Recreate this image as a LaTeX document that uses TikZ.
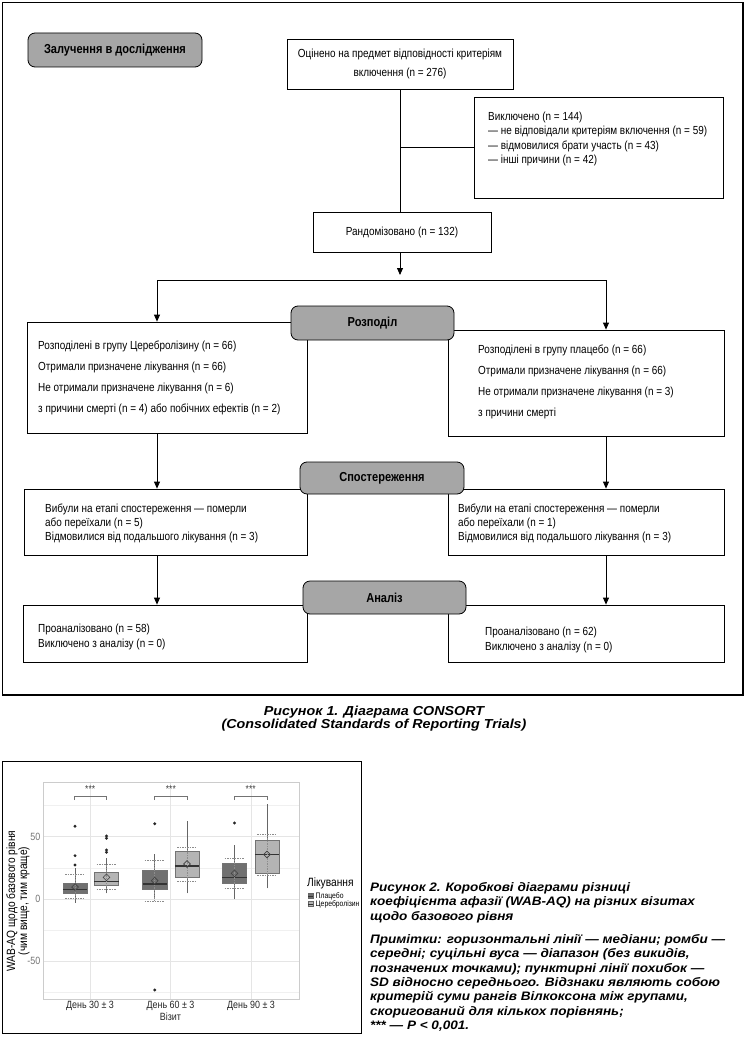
\documentclass[tikz,border=0pt]{standalone}
\usepackage{fontspec}
\setmainfont{Liberation Sans}
\newfontfamily\narrowfont[FakeStretch=0.85]{Liberation Sans}
\newfontfamily\capfont[FakeStretch=1.1]{Liberation Sans}
\usetikzlibrary{arrows.meta,shapes.geometric}

\definecolor{stagegray}{RGB}{166,166,166}
\definecolor{placebogray}{RGB}{112,112,112}
\definecolor{cerebrogray}{RGB}{180,180,180}

\newcommand{\flowtext}[1]{\narrowfont\fontsize{11.7}{#1}\selectfont}
\newcommand{\stagetext}{\narrowfont\bfseries\fontsize{13}{15}\selectfont}
\newcommand{\plottext}[1]{\narrowfont\fontsize{#1}{#1}\selectfont}

\begin{document}
\begin{tikzpicture}[x=1pt, y=-1pt,
    box/.style={draw, line width=0.8pt, inner sep=0pt},
    stage/.style={draw, line width=0.8pt, rounded corners=7pt, fill=stagegray, inner sep=0pt, font=\stagetext},
    link/.style={line width=0.8pt},
    arr/.style={line width=0.8pt, -{Triangle[length=7pt, width=6pt]}},
    flowlines/.style={anchor=west, align=left, inner sep=0pt, font=\flowtext{#1}},
    majorgrid/.style={draw=black!10, line width=0.5pt},
    minorgrid/.style={draw=black!6, line width=0.3pt},
    whisk/.style={draw=black!60, line width=0.7pt},
    boxedge/.style={draw=black!55, line width=0.6pt},
    medline/.style={draw=black!80, line width=1.3pt},
    sdline/.style={draw=black!45, dash pattern=on 1.5pt off 1pt, line width=0.5pt},
    meanmark/.style={diamond, aspect=1, draw=black!75, line width=0.6pt, minimum size=7pt, inner sep=0pt},
    ticklabel/.style={font=\plottext{10.5}, text=black!55, inner sep=0pt}]
  \useasboundingbox (0,0) rectangle (747,1038);

  % CONSORT frame
  \draw[line width=1.2pt] (2.5,2.5) rectangle (743,695);

  % boxes
  \node[box, minimum width=226pt, minimum height=50pt, align=center, font=\flowtext{19}] (assess) at (400,64) {Оцінено на предмет відповідності критеріям\\включення (n = 276)};
  \node[box, minimum width=249pt, minimum height=101pt] (excl) at (598.5,147.5) {};
  \node[flowlines=14.5] (excltext) at (488,139) {Виключено (n = 144)\\— не відповідали критеріям включення (n = 59)\\— відмовилися брати участь (n = 43)\\— інші причини (n = 42)};
  \node[box, minimum width=178pt, minimum height=40pt, font=\flowtext{14}] (rand) at (402,232) {Рандомізовано (n = 132)};

  \node[box, minimum width=280pt, minimum height=111pt] (allocL) at (167,377.5) {};
  \node[flowlines=21] (allocLtext) at (38,377.5) {Розподілені в групу Церебролізину (n = 66)\\Отримали призначене лікування (n = 66)\\Не отримали призначене лікування (n = 6)\\з причини смерті (n = 4) або побічних ефектів (n = 2)};
  \node[box, minimum width=276pt, minimum height=106pt] (allocR) at (586,383) {};
  \node[flowlines=21] (allocRtext) at (478,382) {Розподілені в групу плацебо (n = 66)\\Отримали призначене лікування (n = 66)\\Не отримали призначене лікування (n = 3)\\з причини смерті};

  \node[box, minimum width=283pt, minimum height=66pt] (followL) at (165.5,522) {};
  \node[flowlines=14] (followLtext) at (45,523) {Вибули на етапі спостереження — померли\\або переїхали (n = 5)\\Відмовилися від подальшого лікування (n = 3)};
  \node[box, minimum width=276pt, minimum height=66pt] (followR) at (586,522) {};
  \node[flowlines=14] (followRtext) at (458,523) {Вибули на етапі спостереження — померли\\або переїхали (n = 1)\\Відмовилися від подальшого лікування (n = 3)};

  \node[box, minimum width=284pt, minimum height=57pt] (analL) at (165,633.5) {};
  \node[flowlines=14.5] (analLtext) at (38,637) {Проаналізовано (n = 58)\\Виключено з аналізу (n = 0)};
  \node[box, minimum width=276pt, minimum height=57pt] (analR) at (586,633.5) {};
  \node[flowlines=14.5] (analRtext) at (485,640) {Проаналізовано (n = 62)\\Виключено з аналізу (n = 0)};

  % stage labels
  \node[stage, minimum width=174pt, minimum height=34pt] (enrol) at (115,50) {Залучення в дослідження};
  \node[stage, minimum width=163pt, minimum height=34pt] (allocstage) at (372.5,323) {Розподіл};
  \node[stage, minimum width=164pt, minimum height=32pt] (followstage) at (382,478) {Спостереження};
  \node[stage, minimum width=163pt, minimum height=33pt] (analstage) at (384.5,597.5) {Аналіз};

  % connectors
  \coordinate (splitmid) at (400,275);
  \coordinate (splitL) at (157,280);
  \coordinate (splitR) at (606,280);
  \draw[link] (assess.south) -- (assess.south |- rand.north);
  \draw[link] (assess.south |- excl.west) -- (excl.west);
  \draw[arr] (rand.south -| splitmid) -- (splitmid);
  \draw[link] (splitL) -- (splitR);
  \draw[arr] (splitL) -- (splitL |- allocL.north);
  \draw[arr] (splitR) -- (splitR |- allocR.north);
  \draw[arr] (splitL |- allocL.south) -- (splitL |- followL.north);
  \draw[arr] (splitR |- allocR.south) -- (splitR |- followR.north);
  \draw[arr] (splitL |- followL.south) -- (splitL |- analL.north);
  \draw[arr] (splitR |- followR.south) -- (splitR |- analR.north);

  \node[font=\capfont\bfseries\itshape\fontsize{13}{13.3}\selectfont, align=center, inner sep=0pt] (fig1cap) at (374,718.5) {Рисунок 1. Діаграма CONSORT\\(Consolidated Standards of Reporting Trials)};

  % box plot
  \draw[line width=1pt] (2,761) rectangle (361,1033);
  \begin{scope}[shift={(0,899)}, y=1.246pt]
    \foreach \gy in {-75,-25,25,75}
      \draw[minorgrid] (43,\gy) -- (299,\gy);
    \foreach \gy in {-50,0,50}
      \draw[majorgrid] (43,\gy) -- (299,\gy);
    \foreach \gx in {90,170.5,251}
      \draw[majorgrid] (\gx,-80.5) -- (\gx,93.6);
    \draw[draw=black!20, line width=0.6pt] (43,-80.5) rectangle (299,93.6);
    \foreach \gy [count=\k] in {-50,0,50}
      \node[ticklabel, anchor=east] (ytick\k) at (40.5,\gy) {\gy};

    \foreach \cx/\qa/\qb/\md/\mn/\wl/\wh/\sl/\sh/\fc [count=\k] in {
        75/4.6/12.6/7.8/9.6/-3.0/24.9/0.6/19.7/placebogray,
        106.5/11.2/21.1/14.0/17.4/4.6/32.9/8.0/27.8/cerebrogray,
        154.7/7.8/23.3/12.0/14.7/0/36.1/-1.6/31.3/placebogray,
        187/17.1/38.5/26.5/28.1/4.6/62.8/14.4/41.5/cerebrogray,
        234.5/12.6/28.7/17.3/20.6/0/43.3/8.3/32.7/placebogray,
        267/20.6/47.4/35.7/35.7/8.6/76.6/19.3/52.2/cerebrogray} {
      \draw[whisk] (\cx,\wl) -- (\cx,\wh);
      \filldraw[boxedge, fill=\fc] (\cx-12.2,\qa) rectangle (\cx+12.2,\qb);
      \draw[medline] (\cx-12.2,\md) -- (\cx+12.2,\md);
      \draw[sdline] (\cx-10,\sl) -- (\cx+10,\sl) (\cx,\sl) -- (\cx,\sh) (\cx-10,\sh) -- (\cx+10,\sh);
      \node[meanmark] (mean\k) at (\cx,\mn) {};
    }
    \foreach \ox/\oy in {75/58.4, 75/34.8, 75/27.3, 106.5/50.6, 106.5/48.8, 106.5/39.3,
        106.5/37.5, 154.7/60.4, 154.7/-73, 234.5/61}
      \fill[black!85] (\ox,\oy) circle (1.6pt);

    % significance
    \foreach \bx [count=\k] in {74,154.7,234.5} {
      \draw[black!55, line width=0.5pt] (\bx,79.4) -- (\bx,82.1) -- (\bx+32.5,82.1) -- (\bx+32.5,79.4);
      \node[font=\plottext{10}, text=black!75, inner sep=0pt] (stars\k) at (\bx+16.2,88.5) {***};
    }
  \end{scope}

  \node[rotate=90, font=\narrowfont\fontsize{12}{12}\selectfont, align=center, inner sep=0pt] (ytitle) at (18,901) {WAB-AQ щодо базового рівня\\(чим вище, тим краще)};
  \foreach \lx/\day in {90/30, 170.5/60, 251/90}
    \node[font=\plottext{10.5}, text=black!85, inner sep=0pt] (xlab\day) at (\lx,1006) {День \day{} ± 3};
  \node[font=\plottext{10.5}, text=black!85, inner sep=0pt] (xtitle) at (170.5,1017) {Візит};

  \node[anchor=west, font=\plottext{12}, inner sep=0pt] (legtitle) at (307,883) {Лікування};
  \filldraw[fill=placebogray, draw=black!60, line width=0.4pt] (308,893.5) rectangle (313,898.5);
  \draw[black!80, line width=0.6pt] (308,896) -- (313,896);
  \filldraw[fill=cerebrogray, draw=black!60, line width=0.4pt] (308,901.5) rectangle (313,906.5);
  \draw[black!80, line width=0.6pt] (308,904) -- (313,904);
  \node[anchor=west, font=\plottext{8}, inner sep=0pt] (legplacebo) at (315.5,896) {Плацебо};
  \node[anchor=west, font=\plottext{8}, inner sep=0pt] (legcerebro) at (315.5,904) {Церебролізин};

  % caption of figure 2
  \node[anchor=west, align=left, inner sep=0pt, font=\capfont\bfseries\itshape\fontsize{12.3}{14.3}\selectfont] (fig2title) at (370,902.5) {Рисунок 2. Коробкові діаграми різниці\\коефіцієнта афазії (WAB-AQ) на різних візитах\\щодо базового рівня};
  \node[anchor=west, align=left, inner sep=0pt, font=\capfont\bfseries\itshape\fontsize{12.3}{14.3}\selectfont] (fig2note) at (370,983) {Примітки: горизонтальні лінії — медіани; ромби —\\середні; суцільні вуса — діапазон (без викидів,\\позначених точками); пунктирні лінії похибок —\\SD відносно середнього. Відзнаки являють собою\\критерій суми рангів Вілкоксона між групами,\\скоригований для кількох порівнянь;\\*** — P < 0,001.};
\end{tikzpicture}
\end{document}
